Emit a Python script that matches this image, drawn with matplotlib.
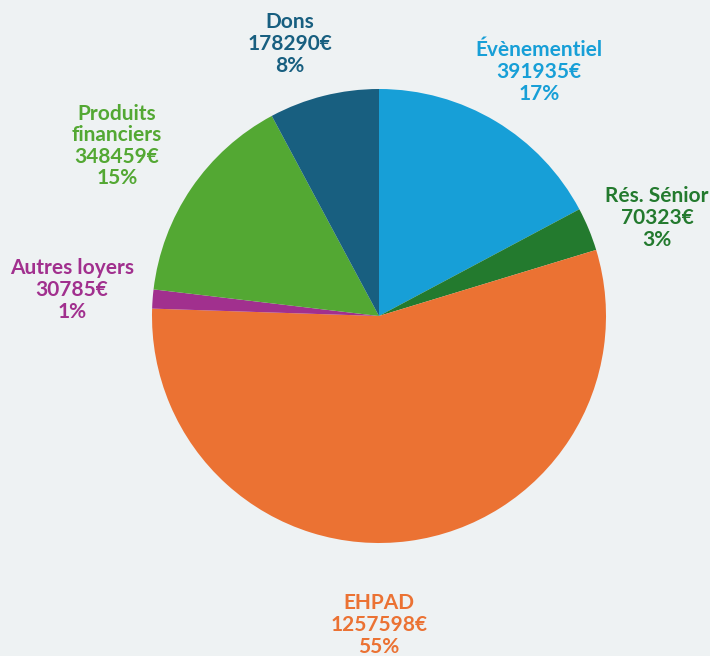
#!/usr/bin/env python3

import matplotlib
matplotlib.use("Agg")
import matplotlib.pyplot as plt

# ----------------------------
# Data (clockwise from 12 o'clock)
# ----------------------------
categories = ["Évènementiel", "Rés. Sénior", "EHPAD", "Autres loyers", "Produits\nfinanciers", "Dons"]
values = [391935, 70323, 1257598, 30785, 348459, 178290]
colors = ["#179fd7", "#237a2e", "#eb7233", "#a1308e", "#53a833", "#185f80"]

# label block centres, in pixels of the 710x656 image
label_px = [(539, 72), (657, 218), (379, 625), (72, 290), (117, 146), (290, 44)]

bg = "#eef2f3"
W, H = 710, 656
cx, cy, R = 379, 316, 227  # pie centre and radius in pixels


def main():
    plt.rcParams["font.family"] = ["Lato", "DejaVu Sans"]
    fig = plt.figure(figsize=(W / 100, H / 100), dpi=100, facecolor=bg)
    ax = fig.add_axes([0, 0, 1, 1])
    ax.set_facecolor(bg)

    ax.pie(values, colors=colors, startangle=90, counterclock=False,
           radius=1.0, wedgeprops=dict(linewidth=0))

    # map the full figure to data units so that 1 unit == R pixels
    ax.set_xlim(-cx / R, (W - cx) / R)
    ax.set_ylim((cy - H) / R, cy / R)
    ax.set_aspect("auto")
    ax.axis("off")

    total = sum(values)
    for name, val, col, (px, py) in zip(categories, values, colors, label_px):
        pct = round(val / total * 100)
        txt = f"{name}\n{val}€\n{pct}%"
        ax.text((px - cx) / R, (cy - py) / R, txt, ha="center", va="center",
                color=col, fontsize=15, fontweight="bold", linespacing=1.1)

    fig.savefig("out.png", dpi=100, facecolor=bg)


if __name__ == "__main__":
    main()
